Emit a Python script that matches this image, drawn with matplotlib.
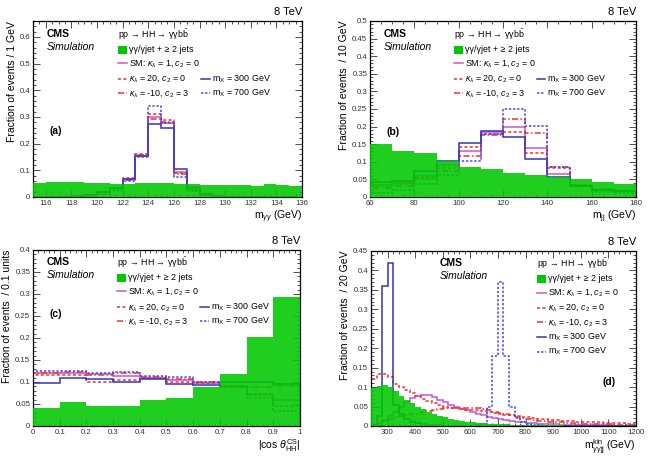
import numpy as np
import matplotlib
matplotlib.use("Agg")
import matplotlib.pyplot as plt
from matplotlib.patches import Rectangle
from matplotlib.ticker import MultipleLocator, FuncFormatter

plt.rcParams['font.family'] = ['Liberation Sans', 'DejaVu Sans']
plt.rcParams['mathtext.fontset'] = 'custom'
plt.rcParams['mathtext.rm'] = 'Liberation Sans'
plt.rcParams['mathtext.it'] = 'Liberation Sans:italic'
plt.rcParams['mathtext.bf'] = 'Liberation Sans:bold'

# ---- panel (a): m_gg, 1 GeV bins ----
edges_a = np.arange(115, 137, 1)
bkg_a = [0.052, 0.055, 0.056, 0.055, 0.054, 0.052, 0.050, 0.050, 0.052, 0.054, 0.052,
         0.050, 0.048, 0.046, 0.045, 0.046, 0.045, 0.043, 0.049, 0.044, 0.042]
sm_a = [0, 0, 0.001, 0.002, 0.007, 0.017, 0.033, 0.068, 0.155, 0.300, 0.278,
        0.095, 0.030, 0.010, 0.003, 0.001, 0, 0, 0, 0, 0]
kl20_a = [0, 0, 0.001, 0.002, 0.005, 0.016, 0.032, 0.072, 0.160, 0.310, 0.288,
          0.090, 0.028, 0.008, 0.002, 0.001, 0, 0, 0, 0, 0]
klm10_a = [0, 0, 0.001, 0.002, 0.006, 0.017, 0.034, 0.065, 0.157, 0.292, 0.282,
           0.088, 0.030, 0.008, 0.002, 0.001, 0, 0, 0, 0, 0]
m300_a = [0, 0, 0.001, 0.003, 0.008, 0.018, 0.035, 0.066, 0.152, 0.272, 0.260,
          0.106, 0.036, 0.013, 0.004, 0.001, 0, 0, 0, 0, 0]
m700_a = [0, 0, 0, 0.001, 0.004, 0.012, 0.028, 0.060, 0.150, 0.340, 0.278,
          0.076, 0.022, 0.006, 0.002, 0, 0, 0, 0, 0, 0]

# ---- panel (b): m_jj, 10 GeV bins ----
edges_b = np.arange(60, 190, 10)
bkg_b = [0.150, 0.132, 0.126, 0.102, 0.084, 0.079, 0.067, 0.0625, 0.058, 0.050, 0.0435, 0.037]
sm_b = [0.035, 0.040, 0.060, 0.090, 0.132, 0.185, 0.198, 0.140, 0.066, 0.032, 0.020, 0.016]
kl20_b = [0.030, 0.036, 0.055, 0.082, 0.143, 0.178, 0.186, 0.124, 0.082, 0.035, 0.021, 0.016]
klm10_b = [0.025, 0.030, 0.050, 0.075, 0.116, 0.176, 0.221, 0.181, 0.085, 0.034, 0.022, 0.017]
m300_b = [0.042, 0.046, 0.073, 0.103, 0.154, 0.188, 0.170, 0.107, 0.058, 0.030, 0.020, 0.018]
m700_b = [0.010, 0.020, 0.038, 0.062, 0.102, 0.180, 0.249, 0.202, 0.086, 0.030, 0.015, 0.010]

# ---- panel (c): |cos theta*|, 0.1 bins ----
edges_c = np.linspace(0, 1, 11)
bkg_c = [0.040, 0.055, 0.045, 0.045, 0.059, 0.063, 0.088, 0.119, 0.203, 0.293]
sm_c = [0.120, 0.121, 0.118, 0.114, 0.110, 0.105, 0.098, 0.090, 0.073, 0.060]
kl20_c = [0.117, 0.116, 0.099, 0.104, 0.108, 0.101, 0.097, 0.088, 0.070, 0.045]
klm10_c = [0.121, 0.122, 0.117, 0.120, 0.111, 0.106, 0.099, 0.088, 0.088, 0.090]
m300_c = [0.098, 0.108, 0.106, 0.100, 0.106, 0.095, 0.094, 0.099, 0.101, 0.095]
m700_c = [0.126, 0.124, 0.120, 0.122, 0.113, 0.112, 0.101, 0.090, 0.063, 0.035]

# ---- panel (d): m_ggjj kin, 20 GeV bins ----
edges_d = np.arange(240, 1220, 20)
bkg_d = [0.098, 0.104, 0.106, 0.100, 0.090, 0.078, 0.068, 0.058, 0.050, 0.043, 0.036, 0.031,
         0.026, 0.022, 0.019, 0.016, 0.013, 0.011, 0.009, 0.008, 0.007, 0.006, 0.005, 0.0045,
         0.004, 0.0035, 0.003, 0.003, 0.0025, 0.002, 0.002, 0.002, 0.0015, 0.0015, 0.0015, 0.001,
         0.001, 0.001, 0.001, 0.001, 0.0008, 0.0008, 0.0008, 0.0006, 0.0006, 0.0006, 0.0005, 0.0005]
sm_d = [0.003, 0.008, 0.015, 0.025, 0.035, 0.048, 0.062, 0.073, 0.076, 0.079, 0.079, 0.075,
        0.068, 0.062, 0.055, 0.049, 0.044, 0.040, 0.035, 0.030, 0.027, 0.024, 0.021, 0.018,
        0.015, 0.013, 0.011, 0.010, 0.008, 0.007, 0.006, 0.005, 0.0045, 0.004, 0.0035, 0.003,
        0.003, 0.0025, 0.002, 0.002, 0.002, 0.0015, 0.0015, 0.0015, 0.001, 0.001, 0.001, 0.001]
kl20_d = [0.120, 0.133, 0.133, 0.125, 0.108, 0.100, 0.093, 0.085, 0.078, 0.070, 0.064, 0.058,
          0.054, 0.050, 0.047, 0.045, 0.043, 0.041, 0.040, 0.040, 0.039, 0.037, 0.034, 0.031,
          0.029, 0.027, 0.025, 0.024, 0.022, 0.020, 0.019, 0.018, 0.016, 0.015, 0.014, 0.013,
          0.012, 0.011, 0.011, 0.010, 0.009, 0.009, 0.008, 0.008, 0.007, 0.007, 0.006, 0.006]
klm10_d = [0.0, 0.005, 0.012, 0.018, 0.022, 0.025, 0.028, 0.030, 0.032, 0.035, 0.038, 0.040,
           0.043, 0.045, 0.046, 0.047, 0.046, 0.047, 0.046, 0.045, 0.043, 0.040, 0.037, 0.034,
           0.031, 0.028, 0.024, 0.021, 0.019, 0.016, 0.014, 0.012, 0.011, 0.010, 0.009, 0.008,
           0.007, 0.006, 0.006, 0.005, 0.005, 0.004, 0.004, 0.004, 0.003, 0.003, 0.003, 0.003]
m300_d = [0.002, 0.025, 0.360, 0.420, 0.055, 0.030, 0.018, 0.011, 0.007, 0.005, 0.003, 0.002,
          0.002, 0.001, 0.001, 0.001, 0.001, 0, 0, 0, 0, 0, 0, 0,
          0, 0, 0, 0, 0, 0, 0, 0, 0, 0, 0, 0,
          0, 0, 0, 0, 0, 0, 0, 0, 0, 0, 0, 0]
m700_d = [0, 0, 0, 0, 0, 0, 0, 0, 0, 0, 0, 0,
          0, 0, 0, 0, 0.001, 0.001, 0.001, 0.002, 0.004, 0.050, 0.180, 0.370,
          0.180, 0.050, 0.020, 0.010, 0.005, 0.003, 0.002, 0.001, 0.001, 0.001, 0, 0,
          0, 0, 0, 0, 0, 0, 0, 0, 0, 0, 0, 0]

GREEN = '#00c800'
MAGENTA = '#cc55cc'
RED = '#ee3333'
BLUE = '#3333bb'
BLUE2 = '#4444ee'

STYLES = {
    'sm':    dict(color=MAGENTA, ls='-'),
    'kl20':  dict(color=RED, ls=(0, (2, 1.5))),
    'klm10': dict(color=RED, ls=(0, (4, 1.5, 1, 1.5))),
    'm300':  dict(color=BLUE, ls='-'),
    'm700':  dict(color=BLUE2, ls=(0, (1.5, 1.2))),
}
LABELS = {
    'sm':    r'SM: $\kappa_{\lambda}$ = 1, $c_{2}$ = 0',
    'kl20':  r'$\kappa_{\lambda}$ = 20, $c_{2}$ = 0',
    'klm10': r'$\kappa_{\lambda}$ = -10, $c_{2}$ = 3',
    'm300':  r'm$_{\rm X}$ = 300 GeV',
    'm700':  r'm$_{\rm X}$ = 700 GeV',
}
LW = 1.1
FS_LEG = 6.4
FS_LAB = 7.5


def fmt(v, pos):
    return '%g' % round(v, 6)


def add_key(ax, x, y, text, key=None, patch=False):
    w = 0.033
    if patch:
        ax.add_patch(Rectangle((x, y - 0.022), w, 0.044, transform=ax.transAxes,
                               color=GREEN, lw=0, clip_on=False))
    else:
        st = STYLES[key]
        ax.plot([x, x + w], [y, y], transform=ax.transAxes, color=st['color'],
                ls=st['ls'], lw=LW, clip_on=False)
    ax.text(x + w + 0.008, y, text, transform=ax.transAxes, va='center', ha='left',
            fontsize=FS_LEG)


def draw_panel(ax, edges, bkg, sig, xlim, ylim, xmaj, xmin, ymaj, ymin, xlabel, ylabel):
    for key in ['sm', 'kl20', 'klm10', 'm300', 'm700']:
        st = STYLES[key]
        ax.stairs(sig[key], edges, color=st['color'], ls=st['ls'], lw=LW, zorder=2)
    ax.stairs(bkg, edges, fill=True, color=GREEN, alpha=0.88, lw=0, zorder=3)
    ax.set_xlim(*xlim)
    ax.set_ylim(*ylim)
    ax.xaxis.set_major_locator(MultipleLocator(xmaj))
    ax.xaxis.set_minor_locator(MultipleLocator(xmin))
    ax.yaxis.set_major_locator(MultipleLocator(ymaj))
    ax.yaxis.set_minor_locator(MultipleLocator(ymin))
    ax.xaxis.set_major_formatter(FuncFormatter(fmt))
    ax.yaxis.set_major_formatter(FuncFormatter(fmt))
    ax.tick_params(which='both', direction='in', top=True, right=True, labelsize=5.6,
                   width=0.6, colors='#333333')
    ax.tick_params(which='major', length=5, pad=2)
    ax.tick_params(which='minor', length=2.5)
    for s in ax.spines.values():
        s.set_linewidth(0.9)
    ax.set_xlabel(xlabel, loc='right', fontsize=FS_LAB, labelpad=1)
    ax.set_ylabel(ylabel, loc='top', fontsize=FS_LAB, labelpad=2)
    ax.text(1.0, 1.025, '8 TeV', transform=ax.transAxes, ha='right', va='bottom', fontsize=8)


fig = plt.figure(figsize=(6.52, 4.58), dpi=100)
ax_a = fig.add_axes([0.0506, 0.5699, 0.4126, 0.3843])
ax_b = fig.add_axes([0.5675, 0.5699, 0.4080, 0.3843])
ax_c = fig.add_axes([0.0506, 0.0699, 0.4095, 0.3843])
ax_d = fig.add_axes([0.5690, 0.0699, 0.4064, 0.3821])

draw_panel(ax_a, edges_a, bkg_a,
           dict(sm=sm_a, kl20=kl20_a, klm10=klm10_a, m300=m300_a, m700=m700_a),
           (115, 136), (0, 0.66), 2, 0.5, 0.1, 0.02,
           r'm$_{\gamma\gamma}$ (GeV)', 'Fraction of events / 1 GeV')
draw_panel(ax_b, edges_b, bkg_b,
           dict(sm=sm_b, kl20=kl20_b, klm10=klm10_b, m300=m300_b, m700=m700_b),
           (60, 180), (0, 0.5), 20, 5, 0.05, 0.01,
           r'm$_{\rm jj}$ (GeV)', 'Fraction of events  / 10 GeV')
draw_panel(ax_c, edges_c, bkg_c,
           dict(sm=sm_c, kl20=kl20_c, klm10=klm10_c, m300=m300_c, m700=m700_c),
           (0, 1), (0, 0.4), 0.1, 0.02, 0.05, 0.01,
           r'|cos $\theta^{\rm CS}_{\rm HH}$|', 'Fraction of events  / 0.1 units')
draw_panel(ax_d, edges_d, bkg_d,
           dict(sm=sm_d, kl20=kl20_d, klm10=klm10_d, m300=m300_d, m700=m700_d),
           (240, 1200), (0, 0.45), 100, 20, 0.05, 0.01,
           r'm$^{\rm kin}_{\gamma\gamma\rm jj}$ (GeV)', 'Fraction of events  / 20 GeV')

PROC = r'pp → HH → γγb$\bar{\rm b}$'
BKG = 'γγ/γjet + ≥ 2 jets'

# legends for (a), (b), (c): two-column layout
for ax, tag, cy, tagy in [(ax_a, '(a)', 0.0, 0.375), (ax_b, '(b)', 0.0, 0.371),
                          (ax_c, '(c)', 0.005, 0.636)]:
    ax.text(0.05, 0.925 + cy, 'CMS', transform=ax.transAxes, fontsize=7.5, fontweight='bold',
            va='center')
    ax.text(0.05, 0.85 + cy, 'Simulation', transform=ax.transAxes, fontsize=7.5,
            style='italic', va='center')
    ax.text(0.315, 0.925 + cy, PROC, transform=ax.transAxes, fontsize=FS_LEG, va='center')
    add_key(ax, 0.316, 0.837 + cy, BKG, patch=True)
    add_key(ax, 0.316, 0.760 + cy, LABELS['sm'], 'sm')
    add_key(ax, 0.316, 0.671 + cy, LABELS['kl20'], 'kl20')
    add_key(ax, 0.316, 0.590 + cy, LABELS['klm10'], 'klm10')
    add_key(ax, 0.626, 0.671 + cy, LABELS['m300'], 'm300')
    add_key(ax, 0.626, 0.590 + cy, LABELS['m700'], 'm700')
    ax.text(0.063, tagy, tag, transform=ax.transAxes, fontsize=7.5, fontweight='bold',
            va='center')

# legend for (d): single column
ax_d.text(0.26, 0.93, 'CMS', transform=ax_d.transAxes, fontsize=7.5, fontweight='bold',
          va='center')
ax_d.text(0.26, 0.855, 'Simulation', transform=ax_d.transAxes, fontsize=7.5, style='italic',
          va='center')
ax_d.text(0.627, 0.925, PROC, transform=ax_d.transAxes, fontsize=FS_LEG, va='center')
add_key(ax_d, 0.628, 0.840, BKG, patch=True)
add_key(ax_d, 0.628, 0.760, LABELS['sm'], 'sm')
add_key(ax_d, 0.628, 0.676, LABELS['kl20'], 'kl20')
add_key(ax_d, 0.628, 0.593, LABELS['klm10'], 'klm10')
add_key(ax_d, 0.628, 0.507, LABELS['m300'], 'm300')
add_key(ax_d, 0.628, 0.425, LABELS['m700'], 'm700')
ax_d.text(0.925, 0.25, '(d)', transform=ax_d.transAxes, fontsize=7.5, fontweight='bold',
          va='center', ha='right')

fig.savefig('out.png', dpi=100)
